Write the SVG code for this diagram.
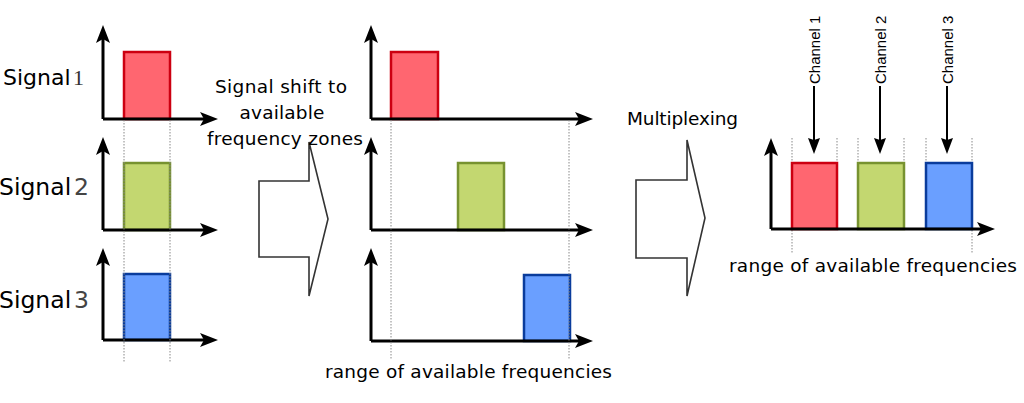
<svg xmlns="http://www.w3.org/2000/svg" width="1024" height="403" viewBox="0 0 1024 403">
<style>
text{font-family:"DejaVu Sans","Verdana",sans-serif;fill:#000}
.lbl{font-size:22px}
.lbl2{font-size:23.5px}
.cap{font-size:18.5px}
.ch{font-size:15px;font-family:"Liberation Sans","Arial",sans-serif}
.axis{stroke:#000;stroke-width:3;fill:none;marker-end:url(#ah)}
.dot{stroke:#888;stroke-width:1;stroke-dasharray:1.5,1.5;fill:none}
.red{fill:#ff6670;stroke:#cc0011;stroke-width:2.5}
.grn{fill:#c3d770;stroke:#779230;stroke-width:2.5}
.blu{fill:#6a9fff;stroke:#0a3c9c;stroke-width:2.5}
.big{fill:#fff;stroke:#333;stroke-width:1.6;stroke-linejoin:miter}
.ptr{stroke:#000;stroke-width:2;fill:none;marker-end:url(#ph)}
</style>
<defs>
<marker id="ah" viewBox="0 0 18 14" refX="4" refY="7" markerWidth="18" markerHeight="14" markerUnits="userSpaceOnUse" orient="auto">
<path d="M0,0 L18,7 L0,14 L4,7 Z" fill="#000"/>
</marker>
<marker id="ph" viewBox="0 0 16 12" refX="2" refY="6" markerWidth="16" markerHeight="12" markerUnits="userSpaceOnUse" orient="auto">
<path d="M0,0 L16,6 L0,12 L2,6 Z" fill="#000"/>
</marker>
</defs>

<g id="connectors">
<path class="big" d="M259,181 H309 V142 L328,219 L309,296 V257 H259 Z"/>
<path class="big" d="M636,180 H687 V140 L705,218 L687,296 V258 H636 Z"/>
<line class="ptr" x1="814" y1="86" x2="814" y2="140"/>
<line class="ptr" x1="880" y1="86" x2="880" y2="140"/>
<line class="ptr" x1="947" y1="86" x2="947" y2="140"/>
</g>

<g id="signal1">
<text class="lbl" x="3" y="85">Signal<tspan style="font-family:'Liberation Serif',serif;fill:#333" x="73">1</tspan></text>
<rect class="red" x="124" y="52" width="46" height="67"/>
<path class="axis" d="M103,119 V39"/>
<path class="axis" d="M103,119 H204"/>
</g>
<g id="signal2">
<text class="lbl2" x="-1" y="195">Signal<tspan style="fill:#444" x="74">2</tspan></text>
<rect class="grn" x="124" y="163" width="46" height="67"/>
<path class="axis" d="M103,230 V151"/>
<path class="axis" d="M103,230 H204"/>
</g>
<g id="signal3">
<text class="lbl2" x="-1" y="308">Signal<tspan style="fill:#444" x="74">3</tspan></text>
<rect class="blu" x="124" y="274" width="46" height="66"/>
<path class="axis" d="M103,340 V262"/>
<path class="axis" d="M103,340 H204"/>
</g>
<g id="guides-left">
<line class="dot" x1="124" y1="120" x2="124" y2="362"/>
<line class="dot" x1="170" y1="120" x2="170" y2="362"/>
</g>

<g id="shift-label">
<text class="cap" x="281" y="93" text-anchor="middle" textLength="132">Signal shift to</text>
<text class="cap" x="282" y="119" text-anchor="middle" textLength="85">available</text>
<text class="cap" x="285" y="145" text-anchor="middle" textLength="156">frequency zones</text>
</g>

<g id="shifted1">
<rect class="red" x="391" y="52" width="47" height="67"/>
<path class="axis" d="M371,119 V39"/>
<path class="axis" d="M371,119 H579"/>
</g>
<g id="shifted2">
<rect class="grn" x="458" y="163" width="46" height="67"/>
<path class="axis" d="M371,230 V151"/>
<path class="axis" d="M371,230 H579"/>
</g>
<g id="shifted3">
<rect class="blu" x="524" y="275" width="46" height="66"/>
<path class="axis" d="M371,341 V262"/>
<path class="axis" d="M371,341 H579"/>
</g>
<g id="guides-mid">
<line class="dot" x1="391" y1="120" x2="391" y2="360"/>
<line class="dot" x1="569" y1="120" x2="569" y2="360"/>
<text class="cap" x="325" y="378" textLength="287">range of available frequencies</text>
</g>

<g id="multiplex-label">
<text class="cap" x="627" y="125" textLength="111">Multiplexing</text>
</g>

<g id="multiplexed">
<line class="dot" x1="792" y1="138" x2="792" y2="163"/>
<line class="dot" x1="837" y1="138" x2="837" y2="163"/>
<line class="dot" x1="858" y1="138" x2="858" y2="163"/>
<line class="dot" x1="904" y1="138" x2="904" y2="163"/>
<line class="dot" x1="926" y1="138" x2="926" y2="163"/>
<line class="dot" x1="972" y1="138" x2="972" y2="163"/>
<line class="dot" x1="792" y1="230" x2="792" y2="253"/>
<line class="dot" x1="972" y1="230" x2="972" y2="253"/>
<rect class="red" x="792" y="163" width="45" height="66"/>
<rect class="grn" x="858" y="163" width="46" height="66"/>
<rect class="blu" x="926" y="163" width="46" height="66"/>
<path class="axis" d="M771,229 V152"/>
<path class="axis" d="M771,229 H981"/>
<text class="cap" x="729" y="272" textLength="288">range of available frequencies</text>
</g>

<g id="channel1"><text class="ch" transform="translate(820,84) rotate(-90)">Channel 1</text></g>
<g id="channel2"><text class="ch" transform="translate(886,84) rotate(-90)">Channel 2</text></g>
<g id="channel3"><text class="ch" transform="translate(953,84) rotate(-90)">Channel 3</text></g>
</svg>
